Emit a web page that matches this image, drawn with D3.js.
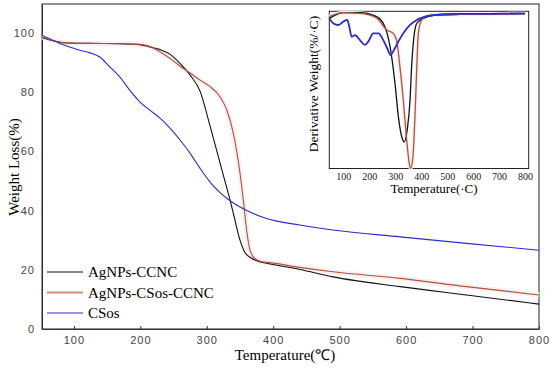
<!DOCTYPE html>
<html>
<head>
<meta charset="utf-8">
<script src="https://cdn.jsdelivr.net/npm/d3@7"></script>
<style>
  body { margin: 0; background: #fff; }
  svg { display: block; }
</style>
</head>
<body>
<div id="chart-area"></div>
<script>
// TGA curves: [temperature, weight %]
const ccncTga = [[52,98.3],[70,97.2],[85,96.6],[120,96.4],[170,96.3],[199,96.0],[214,95.2],[230,94.3],[245,92.7],[260,89.6],[275,85.7],[290,80.2],[305,68.5],[320,56],[327,50.2],[335,43.5],[340,39],[350,30],[357,26],[365,24.2],[377,22.9],[390,22.2],[440,20.1],[490,17.6],[591,14.3],[691,11.5],[800,8.4]];
const csosCcncTga = [[52,98.6],[70,97.3],[85,96.6],[120,96.4],[170,96.3],[199,96.1],[214,95.4],[230,93.5],[245,91.3],[260,88.7],[275,86.4],[290,84],[305,81.8],[318,79],[330,74],[340,66],[350,52.6],[355,43.5],[360,33.4],[365,26.6],[372,23.8],[383,22.7],[395,22.4],[440,20.8],[490,19.3],[591,17.1],[691,14.3],[800,11.5]];
const csosTga = [[52,99.2],[79,96.4],[109,94.1],[124,93.2],[139,91.8],[154,88.5],[169,85.1],[184,80.6],[199,76.7],[214,73.9],[230,71.1],[245,67.7],[260,63.7],[275,59.3],[290,54.2],[305,49.6],[320,46.0],[335,43.3],[355,40.6],[390,37.3],[440,35.1],[490,33.4],[591,31.1],[691,28.9],[800,26.6]];

// DTG inset curves (relative units, 1 = top of inset)
const ccncDtg = [[46,0.955],[100,0.991],[164,0.991],[228,0.966],[260,0.902],[280,0.775],[299,0.542],[312,0.33],[325,0.202],[335,0.17],[346,0.245],[357,0.436],[363,0.648],[372,0.838],[383,0.924],[408,0.955],[450,0.975],[550,0.98],[650,0.982],[800,0.985]];
const csosCcncDtg = [[46,0.966],[100,0.991],[164,0.987],[228,0.958],[267,0.881],[292,0.86],[305,0.817],[318,0.648],[331,0.436],[344,0.181],[354,0.033],[359,0.001],[367,0.054],[376,0.33],[383,0.648],[389,0.86],[402,0.945],[434,0.976],[550,0.98],[650,0.982],[800,0.985]];
const csosDtg = [[46,0.955],[61,0.924],[81,0.913],[100,0.934],[115,0.945],[123,0.902],[132,0.838],[145,0.849],[164,0.817],[183,0.786],[196,0.807],[215,0.86],[235,0.86],[254,0.817],[269,0.765],[282,0.722],[295,0.754],[312,0.807],[331,0.86],[357,0.913],[383,0.945],[395,0.955],[446,0.976],[523,0.983],[600,0.983],[700,0.985],[800,0.987]];

const seriesNames = ["AgNPs-CCNC", "AgNPs-CSos-CCNC", "CSos"];
const seriesColors = ["#111111", "#a9573a", "#2b2bd0"];
const xTicks = [100, 200, 300, 400, 500, 600, 700, 800];
const yTicks = [0, 20, 40, 60, 80, 100];

const svg = d3.select("#chart-area").append("svg")
  .attr("width", 550)
  .attr("height", 368);

// main plot scales
const x = d3.scaleLinear().domain([52, 800]).range([42, 539]);
const y = d3.scaleLinear().domain([0, 109.7]).range([329, 4]);

const line = d3.line()
  .x(d => x(d[0]))
  .y(d => y(d[1]))
  .curve(d3.curveMonotoneX);

// frame
svg.append("rect")
  .attr("x", 42).attr("y", 4)
  .attr("width", 497).attr("height", 325)
  .attr("fill", "none")
  .attr("stroke", "#555")
  .attr("stroke-width", 1.3);

// x axis
const xAxis = svg.append("g")
  .attr("transform", "translate(0,329)")
  .call(d3.axisBottom(x).tickValues(xTicks).tickSizeInner(-3).tickSizeOuter(0).tickPadding(7));
xAxis.select(".domain").attr("stroke", "#333");
xAxis.selectAll("line").attr("stroke", "#333");
xAxis.selectAll("text")
  .attr("fill", "#444")
  .style("font-family", "Liberation Sans, Arial, sans-serif")
  .style("font-size", "11px")
  .style("letter-spacing", "1px");

// y axis
const yAxis = svg.append("g")
  .attr("transform", "translate(42,0)")
  .call(d3.axisLeft(y).tickValues(yTicks).tickSize(0).tickPadding(7));
yAxis.select(".domain").attr("stroke", "#333");
yAxis.selectAll("text")
  .attr("fill", "#444")
  .style("font-family", "Liberation Sans, Arial, sans-serif")
  .style("font-size", "11px")
  .style("letter-spacing", "1px");

// axis titles
svg.append("text")
  .attr("x", 285).attr("y", 360)
  .attr("text-anchor", "middle")
  .style("font-family", "Liberation Serif, Times New Roman, serif")
  .style("font-size", "15px")
  .text("Temperature(℃)");

svg.append("text")
  .attr("transform", "translate(19,167) rotate(-90)")
  .attr("text-anchor", "middle")
  .style("font-family", "Liberation Serif, Times New Roman, serif")
  .style("font-size", "15px")
  .text("Weight Loss(%)");

// curves
const tga = [ccncTga, csosCcncTga, csosTga];
svg.append("path")
  .datum(csosCcncTga)
  .attr("d", line)
  .attr("fill", "none")
  .attr("stroke", "#fdeef3")
  .attr("stroke-width", 5);
tga.forEach((data, i) => {
  svg.append("path")
    .datum(data)
    .attr("d", line)
    .attr("fill", "none")
    .attr("stroke", seriesColors[i])
    .attr("stroke-width", 1.1);
});

// legend
const legend = svg.append("g")
  .attr("transform", "translate(47,272)");
seriesNames.forEach((name, i) => {
  const row = legend.append("g")
    .attr("transform", "translate(0," + (i * 20.5) + ")");
  row.append("line")
    .attr("x1", 0).attr("x2", 36)
    .attr("stroke", i === 1 ? "#d0907c" : seriesColors[i])
    .attr("stroke-width", i === 1 ? 2 : 1.2);
  row.append("text")
    .attr("x", 41).attr("y", 5)
    .style("font-family", "Liberation Serif, Times New Roman, serif")
    .style("font-size", "15px")
    .text(name);
});

// inset (DTG)
const ix = d3.scaleLinear().domain([46, 814]).range([329.3, 528.7]);
const iy = d3.scaleLinear().domain([0, 1]).range([168.5, 11.3]);
const iline = d3.line()
  .x(d => ix(d[0]))
  .y(d => iy(d[1]))
  .curve(d3.curveMonotoneX);

const inset = svg.append("g");
inset.append("rect")
  .attr("x", 329.3).attr("y", 11.3)
  .attr("width", 199.4).attr("height", 157.2)
  .attr("fill", "#fff")
  .attr("stroke", "#222")
  .attr("stroke-width", 1);

const ixAxis = inset.append("g")
  .attr("transform", "translate(0,168.5)")
  .call(d3.axisBottom(ix).tickValues(xTicks).tickSize(0).tickPadding(4));
ixAxis.select(".domain").remove();
ixAxis.selectAll("text")
  .attr("fill", "#222")
  .style("font-family", "Liberation Serif, Times New Roman, serif")
  .style("font-size", "10px");

inset.append("text")
  .attr("x", 434).attr("y", 193)
  .attr("text-anchor", "middle")
  .style("font-family", "Liberation Serif, Times New Roman, serif")
  .style("font-size", "13px")
  .text("Temperature(·C)");

inset.append("text")
  .attr("transform", "translate(318,84) rotate(-90)")
  .attr("text-anchor", "middle")
  .style("font-family", "Liberation Serif, Times New Roman, serif")
  .style("font-size", "13.5px")
  .text("Derivative Weight(%/·C)");

inset.append("path")
  .datum(csosCcncDtg)
  .attr("d", iline)
  .attr("fill", "none")
  .attr("stroke", "#fdeef3")
  .attr("stroke-width", 4);

const dtg = [ccncDtg, csosCcncDtg, csosDtg];
dtg.forEach((data, i) => {
  inset.append("path")
    .datum(data)
    .attr("d", iline)
    .attr("fill", "none")
    .attr("stroke", seriesColors[i])
    .attr("stroke-width", i === 2 ? 1.8 : 1.3);
});
</script>
</body>
</html>
